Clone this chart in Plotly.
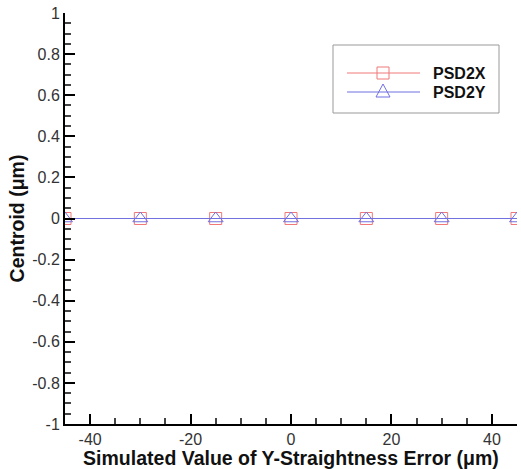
import plotly.graph_objects as go

x_vals = [-45, -30, -15, 0, 15, 30, 45]
psd2x = [0, 0, 0, 0, 0, 0, 0]
psd2y = [0, 0, 0, 0, 0, 0, 0]
series_names = ["PSD2X", "PSD2Y"]
x_ticks = [-40, -20, 0, 20, 40]
y_ticks = [-1, -0.8, -0.6, -0.4, -0.2, 0, 0.2, 0.4, 0.6, 0.8, 1]
y_tick_text = ["-1", "-0.8", "-0.6", "-0.4", "-0.2", "0", "0.2", "0.4", "0.6", "0.8", "1"]
x_range = [-45, 45]
y_range = [-1, 1]
x_title = "Simulated Value of Y-Straightness Error (μm)"
y_title = "Centroid (μm)"

RED = "#f07878"
BLUE = "#7070e0"
W, H = 521, 469
ML, MR, MT, MB = 65, 4, 13, 45
PW, PH = W - ML - MR, H - MT - MB

def px(xp):
    return (xp - ML) / PW

def py(yp):
    return 1 - (yp - MT) / PH

fig = go.Figure()
fig.add_trace(go.Scatter(
    x=x_vals, y=psd2x, name=series_names[0], mode="lines+markers",
    line=dict(color=RED, width=1),
    marker=dict(symbol="square-open", size=12, color=RED, line=dict(width=1)),
    showlegend=False))
fig.add_trace(go.Scatter(
    x=x_vals, y=psd2y, name=series_names[1], mode="lines+markers",
    line=dict(color=BLUE, width=1),
    marker=dict(symbol="triangle-up-open", size=13, color=BLUE, line=dict(width=1)),
    showlegend=False))

# custom legend box (styling only)
shapes = [
    dict(type="rect", xref="paper", yref="paper", x0=px(333), x1=px(499), y0=py(113), y1=py(45),
         line=dict(color="#999", width=1), fillcolor="white", layer="above"),
    dict(type="line", xref="paper", yref="paper", x0=px(347), x1=px(420), y0=py(73), y1=py(73),
         line=dict(color=RED, width=1), layer="above"),
    dict(type="rect", xref="paper", yref="paper", x0=px(377), x1=px(389), y0=py(79), y1=py(67),
         line=dict(color=RED, width=1), fillcolor="rgba(0,0,0,0)", layer="above"),
    dict(type="line", xref="paper", yref="paper", x0=px(347), x1=px(420), y0=py(92), y1=py(92),
         line=dict(color=BLUE, width=1), layer="above"),
    dict(type="path", xref="paper", yref="paper",
         path="M {a},{b} L {c},{b} L {d},{e} Z".format(a=px(376), b=py(97), c=px(390), d=px(383), e=py(84)),
         line=dict(color=BLUE, width=1), fillcolor="rgba(0,0,0,0)", layer="above"),
]
annotations = [
    dict(xref="paper", yref="paper", x=px(431), y=py(73), text="<b>" + series_names[0] + "</b>",
         showarrow=False, xanchor="left", yanchor="middle", font=dict(size=16, color="#111")),
    dict(xref="paper", yref="paper", x=px(431), y=py(92), text="<b>" + series_names[1] + "</b>",
         showarrow=False, xanchor="left", yanchor="middle", font=dict(size=16, color="#111")),
]

font_family = "Liberation Sans"
fig.update_layout(
    width=W, height=H,
    margin=dict(l=ML, r=MR, t=MT, b=MB),
    plot_bgcolor="white",
    font=dict(family=font_family, size=16, color="#333"),
    showlegend=False,
    shapes=shapes, annotations=annotations,
    xaxis=dict(range=x_range, tickvals=x_ticks, ticktext=[str(v) for v in x_ticks],
               showline=True, linecolor="black", linewidth=2,
               ticks="inside", ticklen=10, tickwidth=2, tickcolor="black",
               minor=dict(dtick=5, ticks="inside", ticklen=6, tickcolor="#444"),
               showgrid=False, zeroline=False,
               title=dict(text="<b>" + x_title + "</b>",
                          font=dict(size=19.5, color="#111"), standoff=0)),
    yaxis=dict(range=y_range, tickvals=y_ticks, ticktext=y_tick_text,
               showline=True, linecolor="black", linewidth=2,
               ticks="inside", ticklen=10, tickwidth=2, tickcolor="black",
               minor=dict(dtick=0.05, ticks="inside", ticklen=6, tickcolor="#444"),
               showgrid=False, zeroline=False,
               title=dict(text="<b>" + y_title + "</b>",
                          font=dict(size=19.5, color="#111"), standoff=2)),
)

fig.write_html("out.html")
